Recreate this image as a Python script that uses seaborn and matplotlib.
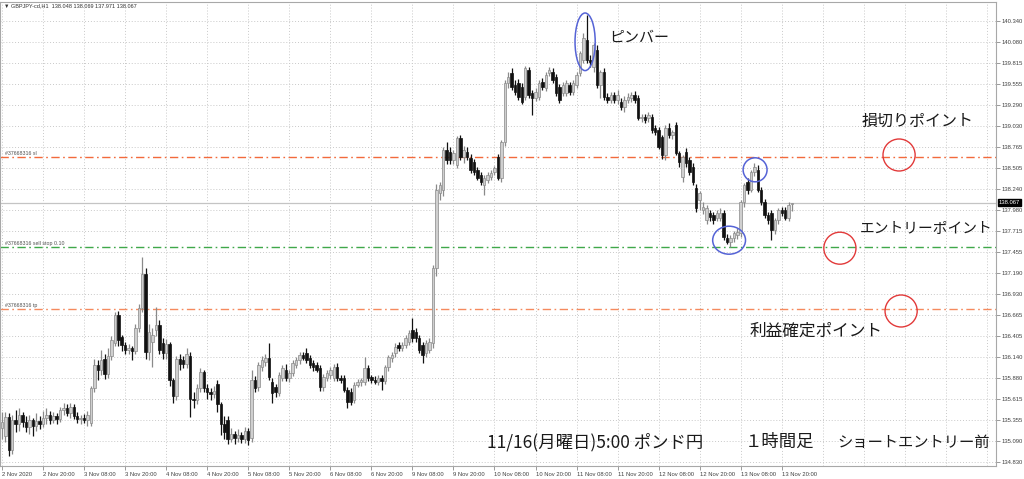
import matplotlib
matplotlib.use("Agg")
import matplotlib.pyplot as plt
import matplotlib.transforms as mtransforms
from matplotlib.patches import Ellipse
import numpy as np
import pandas as pd
import seaborn as sns

# GBPJPY H1 bars, 2 Nov 08:00 .. 13 Nov 2020
opens = [
    135.25, 135.15, 135.39, 134.98, 135.35, 135.30, 135.41, 135.33, 135.27, 135.35,
    135.28, 135.34, 135.30, 135.38, 135.42, 135.35, 135.40, 135.36, 135.48, 135.50,
    135.44, 135.52, 135.40, 135.36, 135.38, 135.35, 135.32, 135.75, 136.04, 135.98,
    136.12, 135.93, 136.15, 136.32, 136.66, 136.39, 136.29, 136.23, 136.25, 136.21,
    136.50, 136.75, 137.18, 136.20, 136.33, 136.48, 136.54, 136.32, 136.19, 136.30,
    135.85, 135.65, 136.12, 136.10, 136.05, 136.15, 135.62, 135.60, 135.75, 135.95,
    135.75, 135.70, 135.68, 135.80, 135.55, 135.30, 135.35, 135.12, 135.18, 135.13,
    135.17, 135.12, 135.22, 135.13, 135.85, 135.76, 136.01, 136.08, 136.13, 135.83,
    135.77, 135.69, 135.88, 135.98, 135.88, 135.94, 136.04, 136.10, 136.16, 136.19,
    136.13, 136.06, 136.04, 136.00, 135.77, 135.88, 135.91, 135.88, 136.01, 135.88,
    135.88, 135.73, 135.70, 135.60, 135.79, 135.83, 135.83, 136.00, 135.89, 135.85,
    135.83, 135.88, 135.84, 136.01, 136.13, 136.19, 136.29, 136.25, 136.29, 136.33,
    136.48, 136.45, 136.38, 136.29, 136.19, 136.23, 136.31, 137.25, 138.19, 138.23,
    138.73, 138.70, 138.60, 138.54, 138.88, 138.64, 138.70, 138.63, 138.58, 138.48,
    138.41, 138.29, 138.35, 138.39, 138.45, 138.64, 138.38, 138.83, 139.56, 139.69,
    139.54, 139.56, 139.51, 139.39, 139.73, 139.44, 139.38, 139.39, 139.58, 139.50,
    139.69, 139.70, 139.64, 139.51, 139.44, 139.44, 139.54, 139.45, 139.54, 139.69,
    139.85, 140.10, 139.85, 139.77, 139.98, 139.54, 139.70, 139.39, 139.35, 139.41,
    139.35, 139.33, 139.27, 139.35, 139.38, 139.41, 139.38, 139.13, 139.14, 139.13,
    139.14, 139.00, 138.98, 138.89, 138.66, 139.00, 138.91, 139.04, 138.69, 138.39,
    138.70, 138.60, 138.52, 138.25, 138.10, 137.98, 137.85, 137.94, 137.91, 137.88,
    137.88, 137.94, 137.63, 137.58, 137.63, 137.66, 137.69, 138.08, 138.33, 138.23,
    138.45, 138.48, 138.23, 138.08, 137.91, 137.94, 137.73, 137.85, 137.98, 137.98,
    137.88, 138.048,
]
highs = [
    135.45, 135.45, 135.44, 135.42, 135.48, 135.50, 135.45, 135.40, 135.42, 135.38,
    135.44, 135.40, 135.46, 135.50, 135.47, 135.45, 135.44, 135.52, 135.56, 135.55,
    135.56, 135.55, 135.45, 135.42, 135.43, 135.46, 135.78, 136.12, 136.10, 136.23,
    136.18, 136.25, 136.40, 136.70, 136.72, 136.42, 136.33, 136.30, 136.28, 136.55,
    136.80, 137.39, 137.25, 136.55, 136.50, 136.77, 136.60, 136.38, 136.36, 136.33,
    135.88, 136.15, 136.18, 136.15, 136.25, 136.20, 135.70, 135.80, 136.00, 135.98,
    135.80, 135.75, 135.78, 135.85, 135.58, 135.40, 135.40, 135.25, 135.22, 135.24,
    135.20, 135.26, 135.25, 135.98, 135.90, 136.08, 136.15, 136.18, 136.31, 135.88,
    135.80, 135.95, 136.04, 136.05, 135.98, 136.10, 136.14, 136.20, 136.20, 136.25,
    136.16, 136.10, 136.08, 136.04, 135.93, 135.98, 136.02, 136.05, 136.06, 135.92,
    135.92, 135.77, 135.75, 135.83, 135.86, 135.88, 136.14, 136.04, 135.92, 135.90,
    135.91, 135.92, 136.04, 136.17, 136.20, 136.31, 136.33, 136.33, 136.42, 136.48,
    136.63, 136.50, 136.42, 136.33, 136.35, 136.38, 137.29, 138.30, 138.33, 138.77,
    138.83, 138.76, 138.73, 138.90, 138.92, 138.78, 138.76, 138.68, 138.62, 138.52,
    138.45, 138.41, 138.45, 138.48, 138.53, 138.68, 138.85, 139.60, 139.70, 139.75,
    139.60, 139.62, 139.56, 139.78, 139.77, 139.48, 139.50, 139.60, 139.63, 139.70,
    139.76, 139.75, 139.68, 139.55, 139.58, 139.60, 139.58, 139.60, 139.70, 139.96,
    140.19, 140.41, 139.92, 140.07, 140.04, 139.73, 139.75, 139.44, 139.45, 139.45,
    139.48, 139.38, 139.40, 139.44, 139.45, 139.46, 139.42, 139.18, 139.18, 139.20,
    139.18, 139.04, 139.02, 138.92, 139.04, 139.06, 138.98, 139.08, 138.72, 138.66,
    138.75, 138.64, 138.56, 138.30, 138.22, 138.08, 138.04, 137.98, 137.95, 137.98,
    138.00, 137.98, 137.68, 137.66, 137.72, 137.75, 138.10, 138.31, 138.38, 138.48,
    138.56, 138.54, 138.26, 138.12, 137.95, 137.98, 137.88, 138.00, 138.02, 138.02,
    138.08, 138.069,
]
lows = [
    135.12, 135.08, 134.90, 134.93, 135.20, 135.22, 135.26, 135.20, 135.18, 135.15,
    135.22, 135.24, 135.26, 135.30, 135.30, 135.32, 135.30, 135.33, 135.42, 135.40,
    135.38, 135.36, 135.32, 135.30, 135.31, 135.28, 135.28, 135.70, 135.85, 135.92,
    135.86, 135.88, 136.10, 136.28, 136.28, 136.22, 136.18, 136.18, 136.10, 136.18,
    136.45, 136.70, 136.12, 136.10, 136.02, 136.40, 136.18, 136.12, 136.12, 135.78,
    135.56, 135.60, 135.98, 136.00, 136.00, 135.39, 135.50, 135.55, 135.70, 135.70,
    135.62, 135.60, 135.63, 135.45, 135.16, 135.12, 135.05, 135.08, 135.05, 135.08,
    135.06, 135.07, 135.04, 135.08, 135.70, 135.72, 135.97, 136.03, 135.85, 135.56,
    135.64, 135.65, 135.84, 135.84, 135.83, 135.90, 136.00, 136.05, 136.10, 136.06,
    136.00, 135.97, 135.95, 135.72, 135.72, 135.84, 135.87, 135.84, 135.84, 135.81,
    135.70, 135.50, 135.54, 135.56, 135.76, 135.78, 135.79, 135.84, 135.82, 135.80,
    135.79, 135.73, 135.80, 135.97, 136.08, 136.14, 136.22, 136.21, 136.25, 136.29,
    136.33, 136.33, 136.19, 136.06, 136.14, 136.19, 136.25, 137.15, 138.10, 138.15,
    138.55, 138.55, 138.55, 138.50, 138.60, 138.56, 138.60, 138.44, 138.42, 138.35,
    138.29, 138.16, 138.31, 138.35, 138.41, 138.35, 138.33, 138.78, 139.50, 139.48,
    139.41, 139.35, 139.30, 139.35, 139.38, 139.16, 139.34, 139.35, 139.48, 139.46,
    139.65, 139.56, 139.40, 139.31, 139.40, 139.40, 139.41, 139.41, 139.50, 139.65,
    139.81, 139.81, 139.77, 139.70, 139.50, 139.38, 139.35, 139.31, 139.31, 139.31,
    139.30, 139.23, 139.20, 139.31, 139.33, 139.31, 139.10, 139.08, 139.06, 139.08,
    138.94, 138.92, 138.74, 138.62, 138.60, 138.88, 138.86, 138.66, 138.52, 138.33,
    138.52, 138.42, 138.29, 137.95, 137.98, 137.93, 137.80, 137.84, 137.80, 137.84,
    137.84, 137.60, 137.55, 137.52, 137.58, 137.62, 137.64, 138.02, 138.18, 138.20,
    138.40, 138.20, 138.04, 137.88, 137.80, 137.60, 137.68, 137.80, 137.90, 137.85,
    137.84, 137.971,
]
closes = [
    135.33, 135.39, 134.98, 135.35, 135.30, 135.41, 135.33, 135.27, 135.35, 135.28,
    135.34, 135.30, 135.38, 135.42, 135.35, 135.40, 135.36, 135.48, 135.50, 135.44,
    135.52, 135.40, 135.36, 135.38, 135.35, 135.42, 135.75, 136.04, 135.98, 136.10,
    135.93, 136.15, 136.35, 136.66, 136.35, 136.29, 136.23, 136.25, 136.21, 136.50,
    136.75, 137.18, 136.20, 136.45, 136.42, 136.54, 136.23, 136.19, 136.30, 135.85,
    135.65, 136.12, 136.05, 136.05, 136.18, 135.62, 135.60, 135.75, 135.95, 135.75,
    135.70, 135.68, 135.72, 135.55, 135.30, 135.20, 135.12, 135.18, 135.13, 135.17,
    135.12, 135.22, 135.10, 135.85, 135.75, 136.04, 136.10, 136.13, 135.89, 135.69,
    135.70, 135.91, 136.00, 135.88, 135.94, 136.06, 136.10, 136.16, 136.13, 136.10,
    136.04, 136.01, 135.98, 135.77, 135.89, 135.94, 135.98, 136.01, 135.88, 135.85,
    135.73, 135.58, 135.58, 135.79, 135.83, 135.85, 136.00, 135.88, 135.85, 135.83,
    135.88, 135.84, 136.01, 136.14, 136.16, 136.27, 136.25, 136.29, 136.38, 136.44,
    136.38, 136.38, 136.23, 136.16, 136.31, 136.33, 137.25, 138.23, 138.29, 138.73,
    138.60, 138.60, 138.69, 138.88, 138.64, 138.73, 138.64, 138.48, 138.45, 138.38,
    138.33, 138.38, 138.41, 138.44, 138.50, 138.38, 138.83, 139.56, 139.64, 139.51,
    139.45, 139.39, 139.33, 139.75, 139.41, 139.38, 139.45, 139.56, 139.51, 139.66,
    139.73, 139.60, 139.44, 139.35, 139.54, 139.56, 139.45, 139.56, 139.66, 139.94,
    140.13, 139.85, 139.83, 140.04, 139.54, 139.70, 139.39, 139.35, 139.41, 139.35,
    139.41, 139.27, 139.35, 139.39, 139.41, 139.35, 139.13, 139.14, 139.10, 139.16,
    138.98, 138.95, 138.77, 138.66, 139.00, 138.91, 138.95, 138.69, 138.58, 138.64,
    138.56, 138.45, 138.33, 138.00, 138.19, 138.02, 138.00, 137.89, 137.85, 137.94,
    137.94, 137.64, 137.58, 137.63, 137.69, 137.70, 138.08, 138.29, 138.23, 138.45,
    138.52, 138.23, 138.08, 137.91, 137.85, 137.73, 137.85, 137.98, 137.94, 137.88,
    138.04, 138.067,
]

# time axis labels, one every 12 bars
time_labels = [
    "2 Nov 2020", "2 Nov 20:00", "3 Nov 08:00", "3 Nov 20:00", "4 Nov 08:00",
    "4 Nov 20:00", "5 Nov 08:00", "5 Nov 20:00", "6 Nov 08:00", "6 Nov 20:00",
    "9 Nov 08:00", "9 Nov 20:00", "10 Nov 08:00", "10 Nov 20:00", "11 Nov 08:00",
    "11 Nov 20:00", "12 Nov 08:00", "12 Nov 20:00", "13 Nov 08:00", "13 Nov 20:00",
]
price_ticks = [
    140.340, 140.080, 139.815, 139.555, 139.290, 139.030, 138.765, 138.505,
    138.240, 137.980, 137.715, 137.455, 137.190, 136.930, 136.665, 136.405,
    136.140, 135.880, 135.615, 135.355, 135.090, 134.830,
]

# pending order levels
order_levels = [138.64, 137.515, 136.74]
order_names = ["#37668316 sl", "#37668316 sell stop 0.10", "#37668316 tp"]
order_colors = ["#f26a3c", "#3fa84a", "#f58a5e"]
bid_price = 138.067

df = pd.DataFrame({"open": opens, "high": highs, "low": lows, "close": closes})
df["bar"] = np.arange(len(df))
df["up"] = df["close"] >= df["open"]

sns.set_theme(style="white")
plt.rcParams["font.family"] = ["Noto Sans CJK JP", "DejaVu Sans"]
small_font = ["Liberation Sans", "DejaVu Sans"]

W, H = 1024, 479
fig = plt.figure(figsize=(W / 100, H / 100), dpi=100)
ax = fig.add_axes([0.0, 1 - 466 / H, 996 / W, 464 / H])

px_per_bar = 3.42
ax.set_xlim(-2 / px_per_bar, (996 - 2) / px_per_bar)
ax.set_ylim(140.6025 - 466 / 80, 140.6025 - 2 / 80)

# grid
grid_x = np.arange(0, 290, 12)
for gx in grid_x:
    ax.axvline(gx, color="#c9c9c9", lw=0.7, ls=(0, (1, 2)), zorder=0)
for gy in price_ticks:
    ax.axhline(gy, color="#c9c9c9", lw=0.7, ls=(0, (1, 2)), zorder=0)

# bid line
ax.axhline(bid_price, color="#c4c4c4", lw=0.9, zorder=1)

# order lines and their labels
for lvl, name, col in zip(order_levels, order_names, order_colors):
    ax.axhline(lvl, color=col, lw=1.0, ls=(0, (6, 2.5, 1.2, 2.5)), zorder=1)
    ax.text(1.0, lvl + 0.01, name, fontsize=3.8, color="#505050",
            family=small_font, va="bottom", ha="left", zorder=2)

# candlesticks
up = df[df["up"]]
dn = df[~df["up"]]
ax.vlines(up["bar"], up["low"], up["high"], color="#8a8a8a", lw=0.9, zorder=3)
ax.vlines(dn["bar"], dn["low"], dn["high"], color="#111111", lw=0.9, zorder=3)
ax.bar(up["bar"], (up["close"] - up["open"]).clip(lower=0.012), bottom=up["open"],
       width=0.72, color="#cfcfcf", edgecolor="#8a8a8a", linewidth=0.5, zorder=4)
ax.bar(dn["bar"], (dn["open"] - dn["close"]).clip(lower=0.012), bottom=dn["close"],
       width=0.72, color="#111111", edgecolor="#111111", linewidth=0.5, zorder=4)

# axes styling
for s in ax.spines.values():
    s.set_color("#a8a8a8")
    s.set_linewidth(0.8)
ax.set_xticks(grid_x[:len(time_labels)])
ax.set_xticklabels(time_labels, ha="left", fontsize=4.2, color="#404040", family=small_font)
ax.yaxis.tick_right()
ax.set_yticks(price_ticks)
ax.set_yticklabels([f"{p:.3f}" for p in price_ticks], fontsize=4.2, color="#404040",
                   family=small_font)
ax.tick_params(axis="x", length=3, width=0.6, color="#8a8a8a", pad=1, bottom=True)
ax.tick_params(axis="y", length=3, width=0.6, color="#8a8a8a", pad=1, right=True)
ax.set_xlabel("")
ax.set_ylabel("")

# current price box on the price scale
trans = mtransforms.blended_transform_factory(ax.transAxes, ax.transData)
ax.text(1.003, bid_price, "138.067", transform=trans, fontsize=4.2, color="white",
        family=small_font, va="center", ha="left", clip_on=False, zorder=6,
        bbox=dict(boxstyle="square,pad=0.15", fc="black", ec="black"))

# chart header
fig.text(4 / W, 1 - 6 / H, "▼ GBPJPY-cd,H1  138.048 138.069 137.971 138.067",
         fontsize=4.0, color="#303030", family=small_font, va="center", ha="left")

# markup: ellipses around the pin bar and swing points
blue = "#5563d6"
ax.add_patch(Ellipse((170.5, 140.08), 5.9, 0.72, fill=False, ec=blue, lw=1.1, zorder=7))
ax.add_patch(Ellipse((220.2, 138.48), 7.0, 0.30, fill=False, ec=blue, lw=1.1, zorder=7))
ax.add_patch(Ellipse((212.6, 137.60), 9.6, 0.35, fill=False, ec=blue, lw=1.1, zorder=7))
red = "#e23a3a"
ax.add_patch(Ellipse((262.3, 138.665), 9.4, 0.40, fill=False, ec=red, lw=1.0, zorder=7))
ax.add_patch(Ellipse((245.0, 137.50), 9.4, 0.40, fill=False, ec=red, lw=1.0, zorder=7))
ax.add_patch(Ellipse((262.9, 136.715), 9.4, 0.40, fill=False, ec=red, lw=1.0, zorder=7))

label_kw = dict(color="#1a1a1a", va="center", ha="left")
fig.text(609 / W, 1 - 38 / H, "ピンバー", fontsize=10.8, **label_kw)
fig.text(862 / W, 1 - 121 / H, "損切りポイント", fontsize=11.5, **label_kw)
fig.text(860 / W, 1 - 229 / H, "エントリーポイント", fontsize=10.6, **label_kw)
fig.text(750 / W, 1 - 331 / H, "利益確定ポイント", fontsize=12, **label_kw)

# caption along the bottom
fig.text(487 / W, 1 - 442 / H, "11/16(月曜日)5:00 ポンド円", fontsize=12.5, **label_kw)
fig.text(745 / W, 1 - 442 / H, "１時間足", fontsize=12.5, **label_kw)
fig.text(837 / W, 1 - 442 / H, "ショートエントリー前", fontsize=11, **label_kw)

fig.savefig("out.png", dpi=100)
